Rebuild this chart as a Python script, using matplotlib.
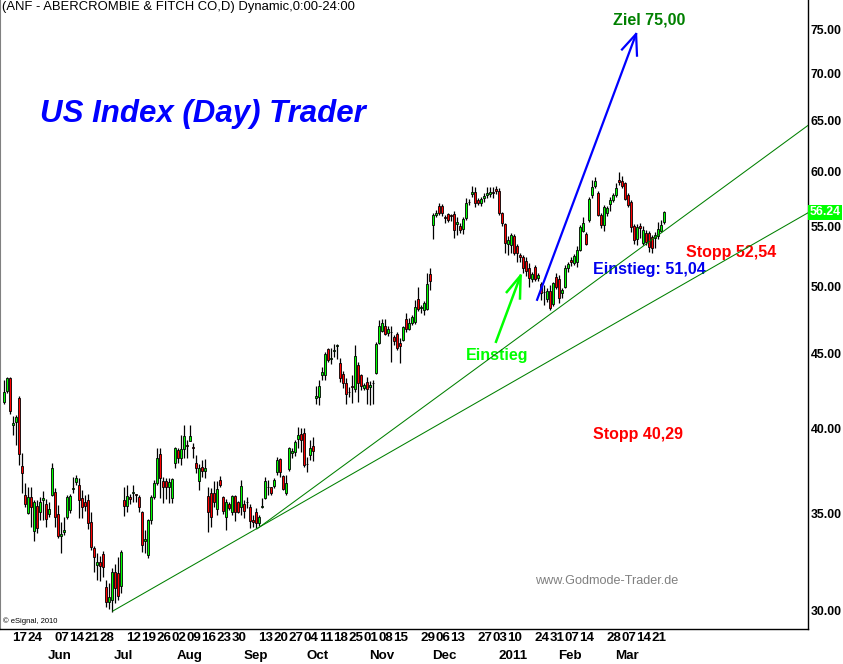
#!/usr/bin/env python3
'''
ANF daily candles with trend lines and trade marks (eSignal style).
'''
import matplotlib
matplotlib.use('Agg')
import matplotlib.pyplot as plt
import matplotlib.transforms as mtransforms
from matplotlib.ticker import NullLocator, FixedLocator
import numpy as np
import pandas as pd

plt.rcParams['font.family'] = ['Liberation Sans', 'DejaVu Sans']

holidays = ['2010-05-31', '2010-07-05', '2010-09-06', '2010-11-25',
            '2010-12-24', '2011-01-17', '2011-02-21']
dates = pd.bdate_range('2010-05-10', '2011-03-23', freq='C', holidays=holidays)

# open, high, low, close
ohlc = [
    (41.72, 43.19, 41.59, 42.38), (42.45, 43.40, 42.30, 43.30), (43.30, 43.35, 40.94, 41.13),
    (40.25, 40.80, 39.60, 40.35), (40.40, 40.85, 38.98, 40.75), (41.98, 42.10, 37.77, 38.43),
    (37.70, 38.50, 36.14, 37.29), (36.02, 36.72, 35.35, 35.51), (35.02, 36.48, 34.97, 35.90),
    (35.90, 36.48, 34.25, 35.35), (34.03, 35.74, 33.50, 35.60), (35.40, 35.75, 33.93, 34.20),
    (35.07, 35.90, 34.63, 35.63), (35.75, 36.25, 34.63, 35.83), (35.52, 35.80, 34.25, 34.69),
    (34.97, 35.60, 34.80, 35.24), (36.02, 37.90, 35.95, 37.59), (36.19, 36.42, 34.25, 34.80),
    (34.97, 35.46, 33.66, 33.77), (33.75, 34.52, 32.87, 33.85), (34.00, 34.80, 33.82, 34.07),
    (34.80, 36.00, 34.70, 35.90), (35.20, 36.10, 35.00, 35.96), (36.35, 37.06, 36.14, 36.43),
    (36.77, 37.20, 36.60, 37.00), (36.60, 37.00, 34.74, 35.74), (35.85, 36.30, 34.74, 35.35),
    (35.60, 36.00, 35.10, 35.40), (35.74, 36.10, 34.14, 34.47), (34.52, 35.07, 33.03, 33.19),
    (33.14, 33.25, 31.90, 32.67), (32.26, 32.87, 31.50, 32.41), (32.41, 32.70, 31.45, 32.20),
    (32.82, 32.95, 31.65, 32.15), (31.16, 31.50, 30.19, 30.43), (30.43, 31.35, 30.10, 30.67),
    (30.53, 32.10, 29.95, 31.90), (31.90, 32.30, 30.38, 31.11), (31.85, 32.67, 30.50, 30.72),
    (31.21, 33.05, 30.87, 32.92), (35.74, 36.48, 34.86, 35.40), (35.40, 36.60, 35.07, 35.97),
    (35.88, 36.10, 35.50, 35.80), (36.15, 36.60, 35.63, 36.20), (36.05, 36.10, 35.60, 36.00),
    (35.90, 36.00, 35.07, 35.35), (35.07, 35.10, 32.93, 33.29), (33.50, 34.09, 32.87, 33.60),
    (32.77, 34.70, 32.60, 34.63), (34.63, 36.00, 34.40, 35.90), (35.90, 36.90, 35.80, 36.72),
    (36.72, 38.79, 36.60, 38.19), (38.43, 38.79, 35.85, 37.00), (36.83, 37.06, 35.57, 36.48),
    (36.80, 37.00, 35.80, 36.50), (36.50, 37.00, 35.57, 36.75), (35.85, 37.00, 35.57, 36.95),
    (37.90, 38.85, 37.60, 38.79), (38.67, 38.80, 37.90, 38.19), (38.20, 39.60, 37.77, 38.73),
    (38.73, 40.23, 38.19, 39.54), (39.00, 39.30, 38.20, 38.92), (39.23, 40.23, 39.20, 39.50),
    (38.85, 39.10, 38.19, 38.79), (37.90, 38.37, 37.30, 37.59), (36.83, 37.80, 36.31, 37.59),
    (37.65, 38.07, 37.06, 37.42), (37.40, 38.10, 37.00, 37.60), (35.96, 36.48, 33.98, 35.07),
    (36.14, 36.42, 34.25, 34.80), (36.14, 36.80, 35.35, 35.63), (35.24, 36.80, 34.91, 36.37),
    (36.89, 37.10, 36.50, 36.60), (35.90, 35.95, 34.97, 35.13), (34.80, 35.80, 34.09, 35.63),
    (35.50, 35.60, 35.20, 35.30), (35.07, 36.00, 34.91, 35.96), (35.96, 36.00, 34.57, 35.07),
    (35.63, 35.70, 35.00, 35.07), (35.35, 36.89, 34.91, 36.54), (35.52, 35.74, 34.74, 35.13),
    (35.60, 35.90, 35.30, 35.65), (35.35, 35.50, 34.20, 34.58), (34.63, 34.90, 34.25, 34.52),
    (35.07, 35.30, 34.20, 34.47), (34.47, 34.90, 34.30, 34.80), (35.35, 35.85, 35.30, 35.40),
    (35.85, 37.06, 35.80, 36.83), (36.45, 36.90, 36.00, 36.50), (36.48, 36.50, 36.00, 36.14),
    (36.54, 37.00, 36.40, 36.89), (37.36, 38.25, 37.20, 38.07), (38.13, 38.20, 37.06, 37.36),
    (37.12, 37.20, 36.30, 36.37), (36.14, 37.18, 36.02, 36.72), (37.53, 38.85, 37.40, 38.79),
    (38.50, 38.80, 38.20, 38.60), (38.55, 39.30, 38.30, 39.17), (39.35, 40.10, 38.80, 39.60),
    (39.66, 40.04, 38.55, 39.29), (39.72, 40.04, 37.65, 37.77), (37.80, 38.25, 37.36, 37.85),
    (38.37, 39.29, 38.07, 38.79), (38.92, 39.47, 38.00, 38.60), (42.00, 42.80, 41.60, 42.10),
    (42.05, 43.19, 41.52, 42.78), (43.50, 44.08, 43.19, 43.70), (43.53, 45.14, 43.19, 45.00),
    (45.35, 45.42, 44.43, 44.57), (44.65, 45.40, 44.30, 44.72), (45.20, 45.71, 44.78, 45.25),
    (45.55, 45.70, 44.64, 45.60), (44.36, 44.71, 43.05, 43.33), (43.60, 43.80, 42.65, 42.98),
    (42.98, 43.33, 41.59, 42.25), (42.35, 42.72, 42.05, 42.40), (42.75, 43.53, 41.65, 42.70),
    (42.58, 45.64, 42.38, 44.86), (44.22, 44.40, 41.72, 42.98), (43.53, 43.60, 42.50, 42.78),
    (42.65, 43.00, 42.50, 42.85), (43.05, 43.40, 41.59, 42.58), (42.72, 43.10, 41.50, 42.85),
    (42.98, 43.20, 41.59, 43.00), (43.67, 45.85, 43.60, 45.71), (45.78, 47.47, 45.70, 47.03),
    (46.65, 47.55, 46.58, 47.25), (47.03, 47.55, 46.36, 46.43), (46.50, 47.00, 46.30, 46.80),
    (46.55, 47.03, 44.43, 46.60), (46.22, 46.36, 45.64, 45.93), (46.43, 46.58, 45.28, 45.42),
    (45.78, 46.14, 44.36, 45.57), (46.00, 47.05, 45.90, 46.95), (47.55, 48.00, 46.58, 46.80),
    (46.80, 47.62, 46.70, 47.25), (47.25, 47.80, 47.10, 47.70), (47.32, 49.00, 47.20, 48.46),
    (49.08, 50.00, 48.16, 48.31), (48.35, 48.60, 48.00, 48.46), (48.23, 48.90, 47.85, 48.77),
    (48.31, 51.13, 48.20, 50.25), (51.05, 51.53, 49.77, 50.49), (55.15, 56.20, 53.95, 56.03),
    (56.03, 56.47, 55.80, 56.20), (56.83, 57.10, 56.00, 56.20), (56.83, 57.00, 55.94, 56.20),
    (55.80, 56.03, 55.30, 55.75), (56.10, 56.20, 55.40, 55.60), (55.98, 56.10, 55.50, 55.90),
    (56.12, 56.38, 54.00, 54.72), (55.20, 55.80, 54.29, 55.40), (55.00, 55.30, 54.46, 54.72),
    (54.80, 55.80, 54.37, 55.68), (55.77, 57.55, 55.60, 57.10), (57.20, 57.46, 56.90, 57.15),
    (57.90, 58.65, 57.60, 58.10), (58.10, 58.55, 56.70, 57.10), (57.37, 57.50, 56.90, 57.10),
    (57.10, 57.60, 56.80, 57.46), (57.55, 58.00, 57.20, 57.73), (57.80, 58.55, 57.50, 58.00),
    (57.90, 58.50, 57.60, 58.10), (58.10, 58.55, 57.50, 57.95), (58.35, 58.65, 57.90, 58.20),
    (58.20, 58.40, 56.03, 56.20), (56.20, 56.30, 55.06, 55.33), (55.24, 55.30, 52.77, 53.61),
    (53.50, 54.20, 52.60, 53.86), (53.44, 54.40, 52.77, 54.29), (54.20, 54.37, 52.60, 52.77),
    (53.35, 53.50, 52.03, 52.77), (52.60, 52.77, 52.03, 52.43), (52.43, 52.60, 51.13, 51.53),
    (52.10, 52.40, 50.89, 51.29), (51.53, 51.90, 50.00, 50.73), (50.65, 51.20, 50.40, 51.05),
    (51.60, 51.78, 50.50, 50.65), (50.73, 51.10, 50.50, 50.97), (50.25, 50.40, 49.00, 49.54),
    (49.60, 50.17, 48.61, 49.62), (49.08, 49.90, 48.80, 49.70), (49.69, 50.17, 48.23, 48.38),
    (48.69, 50.40, 48.54, 50.33), (50.81, 51.13, 49.80, 50.00), (50.65, 50.97, 48.77, 49.15),
    (49.54, 49.90, 49.15, 49.77), (50.00, 51.78, 49.90, 51.53), (51.53, 52.00, 51.20, 51.86),
    (52.20, 52.40, 51.70, 52.03), (51.95, 52.70, 51.80, 52.52), (52.03, 53.30, 51.61, 53.02),
    (53.02, 55.10, 52.90, 54.98), (54.64, 55.85, 54.50, 55.33), (54.37, 54.50, 53.40, 53.52),
    (55.59, 57.60, 55.40, 57.46), (57.82, 59.21, 57.50, 58.55), (58.65, 59.50, 58.40, 59.12),
    (58.00, 58.20, 55.90, 56.03), (56.03, 56.20, 54.90, 55.15), (55.15, 56.90, 54.64, 56.74),
    (56.20, 56.80, 55.90, 56.65), (57.00, 57.64, 56.38, 57.37), (57.37, 58.00, 57.20, 57.82),
    (57.82, 58.93, 57.60, 58.46), (59.21, 59.96, 58.70, 59.00), (59.10, 59.60, 58.40, 58.60),
    (58.90, 59.00, 57.30, 57.46), (57.82, 58.00, 56.70, 56.92), (57.15, 57.30, 54.55, 54.98),
    (55.06, 55.20, 53.52, 53.86), (53.95, 55.20, 53.44, 54.98), (55.07, 55.30, 54.03, 54.90),
    (53.60, 55.00, 53.40, 54.72), (54.46, 54.70, 53.40, 53.70), (54.46, 54.60, 52.85, 53.27),
    (54.12, 54.30, 52.77, 53.18), (54.03, 54.50, 53.18, 54.29), (54.20, 55.40, 53.90, 54.81),
    (54.64, 55.59, 54.50, 55.15), (55.40, 56.38, 55.20, 56.24),
]
opens = [r[0] for r in ohlc]
highs = [r[1] for r in ohlc]
lows = [r[2] for r in ohlc]
closes = [r[3] for r in ohlc]

day_labels = ['2010-05-17', '2010-05-24', '2010-06-07', '2010-06-14', '2010-06-21',
              '2010-06-28', '2010-07-12', '2010-07-19', '2010-07-26', '2010-08-02',
              '2010-08-09', '2010-08-16', '2010-08-23', '2010-08-30', '2010-09-13',
              '2010-09-20', '2010-09-27', '2010-10-04', '2010-10-11', '2010-10-18',
              '2010-10-25', '2010-11-01', '2010-11-08', '2010-11-15', '2010-11-29',
              '2010-12-06', '2010-12-13', '2010-12-27', '2011-01-03', '2011-01-10',
              '2011-01-24', '2011-01-31', '2011-02-07', '2011-02-14', '2011-02-28',
              '2011-03-07', '2011-03-14', '2011-03-21']
month_labels = ['Jun', 'Jul', 'Aug', 'Sep', 'Oct', 'Nov', 'Dec', '2011', 'Feb', 'Mar']
price_ticks = [30, 35, 40, 45, 50, 55, 60, 65, 70, 75]

# trend lines: (bar, price) pairs
trend_low = [(36.3, 30.0), (268, 56.2)]
trend_high = [(84.3, 34.14), (268, 64.5)]
# hand drawn arrows
blue_arrow = [(177.7, 49.0), (210.7, 74.5)]
blue_head = [(206.0, 72.7), (210.7, 74.5), (211.0, 72.0)]
green_arrow = [(164.0, 45.86), (172.2, 50.9)]
green_head = [(167.6, 49.6), (172.2, 50.9), (172.0, 49.1)]

W, H = 843, 664
fig = plt.figure(figsize=(W / 100, H / 100), dpi=100)
ax = fig.add_axes([0, 35 / H, 808 / W, 629 / H])

x = np.arange(len(dates))
o = np.array(opens); c = np.array(closes)
up = c >= o
ax.vlines(x, lows, highs, color='black', lw=0.9, zorder=2)
ax.bar(x, np.abs(c - o), bottom=np.minimum(o, c), width=0.85,
       color=np.where(up, '#00ff00', '#ff0000'), edgecolor='black',
       linewidth=0.6, zorder=3)

for line in (trend_low, trend_high):
    ax.plot([p[0] for p in line], [p[1] for p in line], color='#008000', lw=0.75, zorder=4)

ax.plot(*zip(*blue_arrow), color='#0000ff', lw=1.6, zorder=5)
ax.plot(*zip(*blue_head), color='#0000ff', lw=1.6, zorder=5)
ax.plot(*zip(*green_arrow), color='#00ff00', lw=1.8, zorder=5)
ax.plot(*zip(*green_head), color='#00ff00', lw=1.8, zorder=5)

ax.set_yscale('log')
ax.set_ylim(29.16, 78.6)
ax.set_xlim(-1.33, 268)
ax.yaxis.set_major_locator(FixedLocator(price_ticks))
ax.yaxis.set_minor_locator(NullLocator())
ax.set_yticklabels(['%.2f' % t for t in price_ticks])
ax.yaxis.tick_right()
ax.tick_params(axis='y', length=0, pad=2, labelsize=8.8)
for lab in ax.get_yticklabels():
    lab.set_fontweight('bold')
ax.set_xticks([])

ax.spines['top'].set_visible(False)
ax.spines['left'].set_color('#808080')
ax.spines['right'].set_linewidth(1.0)
ax.spines['bottom'].set_linewidth(1.0)

# date axis
trans = mtransforms.blended_transform_factory(ax.transData, ax.transAxes)
for d in day_labels:
    i = dates.get_loc(pd.Timestamp(d))
    ax.text(i + 0.3, -0.0143, pd.Timestamp(d).strftime('%d'), transform=trans,
            ha='center', va='center', fontsize=9.6, fontweight='bold', clip_on=False)
month_idx = [i for i in range(1, len(dates)) if dates[i].month != dates[i - 1].month]
for i, name in zip(month_idx, month_labels):
    ax.text(i - 0.3, -0.0429, name, transform=trans, ha='left', va='center',
            fontsize=9.6, fontweight='bold', clip_on=False)

# last price box
ytrans = mtransforms.blended_transform_factory(ax.transAxes, ax.transData)
ax.text(1.002, closes[-1], '%.2f' % closes[-1], transform=ytrans, ha='left', va='center',
        color='white', fontsize=8.8, fontweight='bold', clip_on=False,
        bbox=dict(facecolor='#00ff00', edgecolor='none', pad=1.2), zorder=6)

# texts
ax.text(0.0025, 0.989, '(ANF - ABERCROMBIE & FITCH CO,D) Dynamic,0:00-24:00',
        transform=ax.transAxes, ha='left', va='center', fontsize=9.4)
ax.text(12, 65.7, 'US Index (Day) Trader', ha='left', va='center', color='#0000ff',
        fontsize=22.5, fontweight='bold', fontstyle='italic')
ax.text(215, 76.2, 'Ziel 75,00', ha='center', va='center', color='#008000',
        fontsize=11.5, fontweight='bold')
ax.text(164.3, 44.86, 'Einstieg', ha='center', va='center', color='#00ff00',
        fontsize=11.5, fontweight='bold')
ax.text(196.3, 51.37, 'Einstieg: 51,04', ha='left', va='center', color='#0000ee',
        fontsize=11.5, fontweight='bold')
ax.text(227.3, 52.77, 'Stopp 52,54', ha='left', va='center', color='#ff0000',
        fontsize=11.5, fontweight='bold')
ax.text(196.3, 39.6, 'Stopp 40,29', ha='left', va='center', color='#ff0000',
        fontsize=11.5, fontweight='bold')
ax.text(177, 31.45, 'www.Godmode-Trader.de', ha='left', va='center', color='#808080',
        fontsize=9.1)
ax.text(0.004, 0.0127, '\u00a9 eSignal, 2010', transform=ax.transAxes, ha='left',
        va='center', fontsize=5.5)

fig.savefig('out.png', dpi=100)
